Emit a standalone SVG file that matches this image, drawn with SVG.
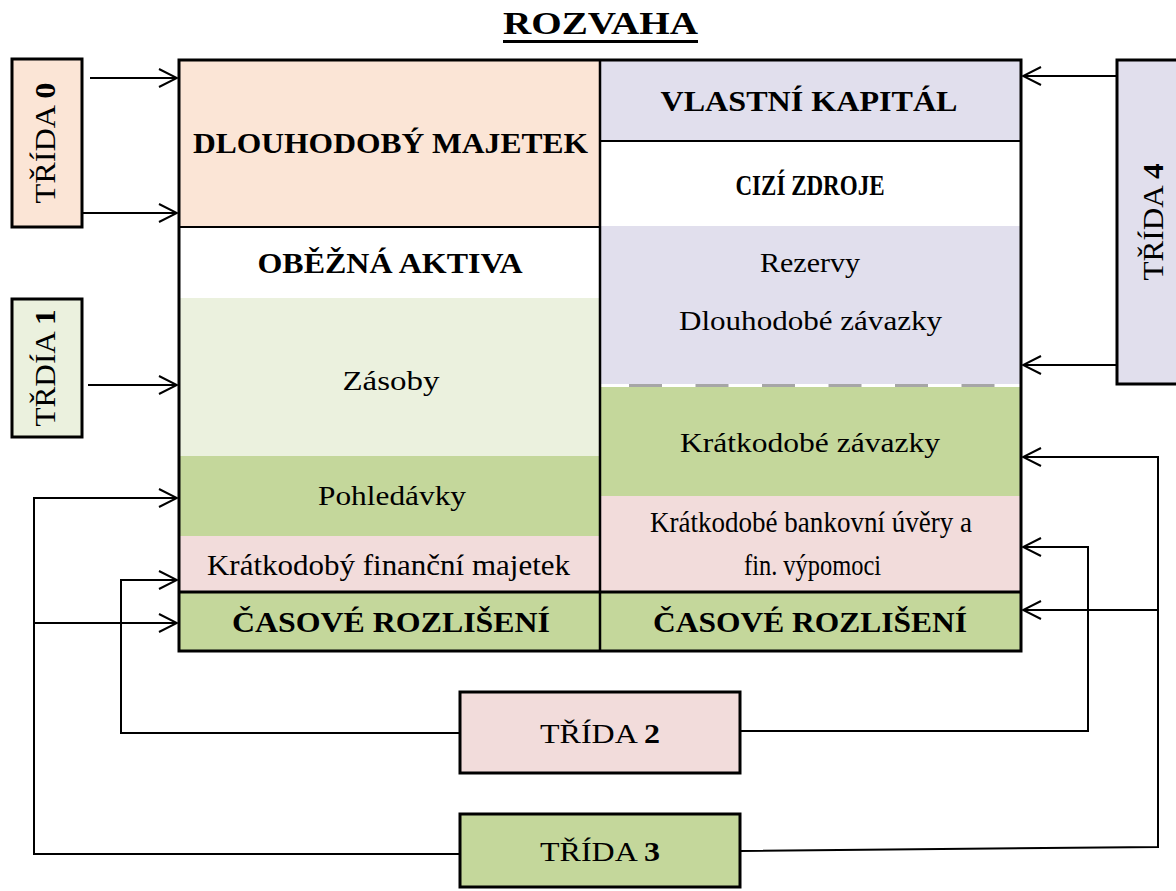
<svg xmlns="http://www.w3.org/2000/svg" width="1176" height="891" viewBox="0 0 1176 891">
<style>
text{font-family:"Liberation Serif","Times New Roman",serif;fill:#000}
.b{font-weight:bold}
.m{text-anchor:middle}
.box{stroke:#000;stroke-width:3}
.ln{fill:none;stroke:#000;stroke-width:2}
.peach{fill:#fbe5d6}.lav{fill:#e1dfed}.lg{fill:#ebf1de}.gr{fill:#c4d79b}.pk{fill:#f2dcdb}.wh{fill:#fff}
</style>
<defs>
<marker id="ah" viewBox="0 0 20 20" refX="19" refY="10" markerWidth="20" markerHeight="20" markerUnits="userSpaceOnUse" orient="auto">
<path d="M1,1 L19,10 L1,19" fill="none" stroke="#000" stroke-width="2"/>
</marker>
</defs>
<rect width="1176" height="891" fill="#fff"/>

<g id="title">
<text class="b m" x="600.5" y="34" font-size="32" textLength="195" lengthAdjust="spacingAndGlyphs">ROZVAHA</text>
<rect x="503" y="40" width="195" height="3" fill="#000"/>
</g>

<g id="left-column">
<rect class="peach" x="179" y="60" width="421" height="167"/>
<rect class="wh" x="179" y="227" width="421" height="71"/>
<rect class="lg" x="179" y="298" width="421" height="158"/>
<rect class="gr" x="179" y="456" width="421" height="80"/>
<rect class="pk" x="179" y="536" width="421" height="56"/>
<rect class="gr" x="179" y="592" width="421" height="59"/>
<line x1="179" y1="227" x2="600" y2="227" stroke="#000" stroke-width="2"/>
</g>

<g id="right-column">
<rect class="lav" x="600" y="60" width="421" height="81"/>
<rect class="wh" x="600" y="141" width="421" height="85"/>
<rect class="lav" x="600" y="226" width="421" height="158"/>
<rect class="gr" x="600" y="387" width="421" height="109"/>
<rect class="pk" x="600" y="496" width="421" height="96"/>
<rect class="gr" x="600" y="592" width="421" height="59"/>
<line x1="600" y1="141" x2="1021" y2="141" stroke="#000" stroke-width="2"/>
<line x1="629" y1="385.5" x2="1000" y2="385.5" stroke="#a6a6a6" stroke-width="3" stroke-dasharray="33 33.5"/>
</g>

<g id="frame">
<rect x="179" y="60" width="842" height="591" fill="none" stroke="#000" stroke-width="3"/>
<line x1="600" y1="60" x2="600" y2="651" stroke="#000" stroke-width="2.5"/>
<line x1="179" y1="592" x2="1021" y2="592" stroke="#000" stroke-width="3"/>
</g>

<g id="dlouhodoby-majetek"><text class="b m" x="390.5" y="153" font-size="30" textLength="395" lengthAdjust="spacingAndGlyphs">DLOUHODOBÝ MAJETEK</text></g>
<g id="obezna-aktiva"><text class="b m" x="390" y="273" font-size="29" textLength="265" lengthAdjust="spacingAndGlyphs">OBĚŽNÁ AKTIVA</text></g>
<g id="zasoby"><text class="m" x="391" y="390" font-size="28" textLength="97" lengthAdjust="spacingAndGlyphs">Zásoby</text></g>
<g id="pohledavky"><text class="m" x="392" y="505" font-size="28" textLength="148" lengthAdjust="spacingAndGlyphs">Pohledávky</text></g>
<g id="kratkodoby-financni-majetek"><text class="m" x="388.5" y="575" font-size="29" textLength="363" lengthAdjust="spacingAndGlyphs">Krátkodobý finanční majetek</text></g>
<g id="casove-rozliseni-a"><text class="b m" x="391" y="632" font-size="30" textLength="318" lengthAdjust="spacingAndGlyphs">ČASOVÉ ROZLIŠENÍ</text></g>

<g id="vlastni-kapital"><text class="b m" x="809" y="111" font-size="29" textLength="297" lengthAdjust="spacingAndGlyphs">VLASTNÍ KAPITÁL</text></g>
<g id="cizi-zdroje"><text class="b m" x="810" y="195" font-size="29" textLength="149" lengthAdjust="spacingAndGlyphs">CIZÍ ZDROJE</text></g>
<g id="rezervy-dlouhodobe">
<text class="m" x="810" y="272" font-size="27" textLength="100" lengthAdjust="spacingAndGlyphs">Rezervy</text>
<text class="m" x="810.5" y="330" font-size="28" textLength="263" lengthAdjust="spacingAndGlyphs">Dlouhodobé závazky</text>
</g>
<g id="kratkodobe-zavazky"><text class="m" x="810" y="452" font-size="28" textLength="260" lengthAdjust="spacingAndGlyphs">Krátkodobé závazky</text></g>
<g id="kratkodobe-uvery">
<text class="m" x="811" y="532" font-size="29" textLength="322" lengthAdjust="spacingAndGlyphs">Krátkodobé bankovní úvěry a</text>
<text class="m" x="812.5" y="575" font-size="29" textLength="137" lengthAdjust="spacingAndGlyphs">fin. výpomoci</text>
</g>
<g id="casove-rozliseni-p"><text class="b m" x="810" y="632" font-size="30" textLength="314" lengthAdjust="spacingAndGlyphs">ČASOVÉ ROZLIŠENÍ</text></g>

<g id="trida-0">
<rect class="box peach" x="12" y="59" width="70" height="168"/>
<text class="m" transform="translate(55,143) rotate(-90)" font-size="29" textLength="121" lengthAdjust="spacingAndGlyphs">TŘÍDA <tspan class="b">0</tspan></text>
</g>
<g id="trida-1">
<rect class="box lg" x="12" y="299" width="70" height="138"/>
<text class="m" transform="translate(55,368) rotate(-90)" font-size="29" textLength="117" lengthAdjust="spacingAndGlyphs">TŘDÍA <tspan class="b">1</tspan></text>
</g>
<g id="trida-4">
<rect class="box lav" x="1117" y="60" width="70" height="324"/>
<text class="m" transform="translate(1163,222) rotate(-90)" font-size="29" textLength="117" lengthAdjust="spacingAndGlyphs">TŘÍDA <tspan class="b">4</tspan></text>
</g>
<g id="trida-2">
<rect class="box pk" x="460" y="692" width="280" height="81"/>
<text class="m" x="600" y="743" font-size="28" textLength="120" lengthAdjust="spacingAndGlyphs">TŘÍDA <tspan class="b">2</tspan></text>
</g>
<g id="trida-3">
<rect class="box gr" x="460" y="814" width="280" height="73"/>
<text class="m" x="600" y="861" font-size="28" textLength="120" lengthAdjust="spacingAndGlyphs">TŘÍDA <tspan class="b">3</tspan></text>
</g>

<g id="connectors">
<line class="ln" x1="90" y1="78" x2="177" y2="78" marker-end="url(#ah)"/>
<line class="ln" x1="83" y1="213" x2="177" y2="213" marker-end="url(#ah)"/>
<line class="ln" x1="88" y1="385" x2="177" y2="385" marker-end="url(#ah)"/>
<line class="ln" x1="1117" y1="76" x2="1023" y2="76" marker-end="url(#ah)"/>
<line class="ln" x1="1117" y1="365" x2="1023" y2="365" marker-end="url(#ah)"/>
<polyline class="ln" points="460,854 34,854 34,498 177,498" marker-end="url(#ah)"/>
<line class="ln" x1="34" y1="623" x2="177" y2="623" marker-end="url(#ah)"/>
<polyline class="ln" points="460,733 121,733 121,580 177,580" marker-end="url(#ah)"/>
<polyline class="ln" points="740,731 1088,731 1088,547 1023,547" marker-end="url(#ah)"/>
<polyline class="ln" points="740,851 1158,847 1158,457 1023,457" marker-end="url(#ah)"/>
<line class="ln" x1="1158" y1="610" x2="1023" y2="610" marker-end="url(#ah)"/>
</g>
</svg>
